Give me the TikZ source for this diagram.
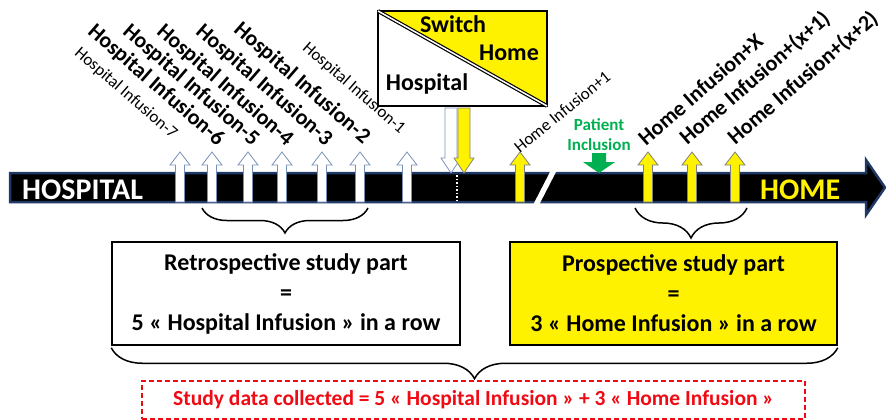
\documentclass[tikz,border=0pt]{standalone}
\usepackage{fontspec}
\setmainfont{Carlito}
\usepackage{tikz}
\usetikzlibrary{decorations.pathreplacing}

\definecolor{barblue}{RGB}{31,56,100}
\definecolor{arrowblue}{RGB}{120,146,182}
\definecolor{incgreen}{RGB}{0,176,80}
\definecolor{datared}{RGB}{240,10,20}

\tikzset{
    biglabel/.style={font=\fontsize{22}{24}\selectfont\bfseries, inner sep=0pt},
    smalllabel/.style={font=\fontsize{17}{19}\selectfont, inner sep=0pt},
    signtext/.style={font=\fontsize{24}{26}\selectfont\bfseries, inner sep=0pt, anchor=base},
    bartext/.style={font=\fontsize{30}{32}\selectfont\bfseries, inner sep=0pt, anchor=base west},
    upwhite/.style={fill=white, draw=arrowblue, line width=0.8pt},
    upyellow/.style={fill=yellow, draw=gray, line width=0.8pt},
    studybox/.style={draw=black, line width=1.5pt, minimum height=103pt, align=center,
        font=\fontsize{24}{30}\selectfont\bfseries},
    bracket/.style={decorate, decoration={brace, mirror, amplitude=#1}, line width=1.5pt},
}

\begin{document}
\begin{tikzpicture}[x=1pt,y=-1pt]
    \useasboundingbox (0,0) rectangle (886,420);

    % the time line
    \draw [fill=black, draw=barblue, line width=2.5pt] (10,173) -- (866,173) -- (866,160) -- (885,187.5)
        -- (866,215) -- (866,202) -- (10,202) -- cycle;
    \fill [white] (533,205) -- (539,205) -- (557,170) -- (551,170) -- cycle;
    \draw [white, dotted, line width=1.5pt] (457,175) -- (457,201);
    \node [bartext, text=white] (hosp) at (22,199) {HOSPITAL};
    \node [bartext, text=yellow] (home) at (760,199) {HOME};

    % infusions at the hospital
    \foreach \x in {180,212,248,282,322,360,407}
        \draw [upwhite] (\x-4.5,202) -- (\x-4.5,165) -- (\x-10,165) -- (\x,152) -- (\x+10,165)
            -- (\x+4.5,165) -- (\x+4.5,202) -- cycle;
    % infusions at home
    \foreach \x in {520,648,692,735}
        \draw [upyellow] (\x-4.5,202) -- (\x-4.5,165) -- (\x-10,165) -- (\x,152) -- (\x+10,165)
            -- (\x+4.5,165) -- (\x+4.5,202) -- cycle;

    \node [smalllabel, rotate=-41, anchor=east] (h7) at (175,136) {Hospital Infusion-7};
    \node [biglabel, rotate=-41, anchor=east] (h6) at (221,142) {Hospital Infusion-6};
    \node [biglabel, rotate=-41, anchor=east] (h5) at (256,142) {Hospital Infusion-5};
    \node [biglabel, rotate=-41, anchor=east] (h4) at (290,142) {Hospital Infusion-4};
    \node [biglabel, rotate=-41, anchor=east] (h3) at (329,142) {Hospital Infusion-3};
    \node [biglabel, rotate=-41, anchor=east] (h2) at (367,140) {Hospital Infusion-2};
    \node [smalllabel, rotate=-41, anchor=east] (h1) at (403,131) {Hospital Infusion-1};

    \node [smalllabel, rotate=39, anchor=west] (m1) at (516,149) {Home Infusion+1};
    \node [biglabel, rotate=41, anchor=west] (mx) at (641,141) {Home Infusion+X};
    \node [biglabel, rotate=41, anchor=west] (mx1) at (683,141) {Home Infusion+(x+1)};
    \node [biglabel, rotate=41, anchor=west] (mx2) at (731,141) {Home Infusion+(x+2)};

    % switch sign
    \fill [white] (378,11) rectangle (547,106);
    \fill [yellow] (378,11) -- (547,11) -- (547,106) -- cycle;
    \draw [line width=2.5pt] (378,11) rectangle (547,106);
    \draw [double=white, double distance=1.5pt, line width=1.2pt] (378,11) -- (547,106);
    \node [signtext] (sw) at (453,33) {Switch};
    \node [signtext] (swhome) at (509,60) {Home};
    \node [signtext] (swhosp) at (427,90) {Hospital};
    \draw [upwhite] (445,108) -- (457,108) -- (457,158) -- (461,158) -- (451,173) -- (441,158)
        -- (445,158) -- cycle;
    \draw [upyellow] (458,108) -- (470,108) -- (470,158) -- (474,158) -- (464,173) -- (454,158)
        -- (458,158) -- cycle;

    % inclusion
    \node [font=\fontsize{17}{20}\selectfont\bfseries, text=incgreen, align=center, inner sep=0pt]
        (incl) at (599,135) {Patient\\Inclusion};
    \fill [incgreen] (592,153) -- (606,153) -- (606,162) -- (615,162) -- (599,173) -- (583,162)
        -- (592,162) -- cycle;

    % study parts
    \draw [bracket=25pt] (202,208) -- (368,208);
    \draw [bracket=30pt] (635,208) -- (747,208);
    \node [studybox, minimum width=348pt] (retro) at (286,293.5)
        {Retrospective study part\\=\\5 « Hospital Infusion » in a row};
    \node [studybox, minimum width=327pt, fill=yellow] (prosp) at (673.5,293.5)
        {Prospective study part\\=\\3 « Home Infusion » in a row};
    \draw [bracket=31pt] ([yshift=-2pt]retro.south west) -- ([yshift=-2pt]prosp.south east);
    \node [draw=datared, dashed, dash pattern=on 5pt off 3pt, line width=1.2pt, text=datared,
        minimum width=663pt, minimum height=38pt, font=\fontsize{21.5}{24}\selectfont\bfseries]
        (data) at (473.5,400) {Study data collected = 5 « Hospital Infusion » + 3 « Home Infusion »};
\end{tikzpicture}
\end{document}
